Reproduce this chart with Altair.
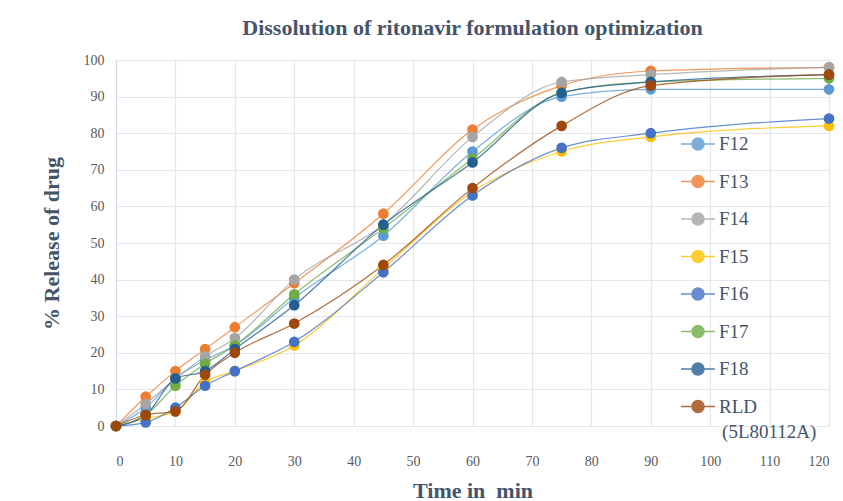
import altair as alt
import pandas as pd

times = [0, 5, 10, 15, 20, 30, 45, 60, 75, 90, 120]
series_names = ["F12", "F13", "F14", "F15", "F16", "F17", "F18", "RLD"]
F12 = [0, 5, 13, 18, 22, 35, 52, 75, 90, 92, 92]
F13 = [0, 8, 15, 21, 27, 39, 58, 81, 93, 97, 98]
F14 = [0, 6, 13, 19, 24, 40, 55, 79, 94, 96, 98]
F15 = [0, 2, 4, 12, 15, 22, 43, 64, 75, 79, 82]
F16 = [0, 1, 5, 11, 15, 23, 42, 63, 76, 80, 84]
F17 = [0, 3, 11, 17, 22, 36, 54, 73, 91, 94, 95]
F18 = [0, 3, 13, 15, 21, 33, 55, 72, 91, 94, 96]
RLD = [0, 3, 4, 14, 20, 28, 44, 65, 82, 93, 96]
colors = ["#5B9BD5", "#ED7D31", "#A5A5A5", "#FFC000", "#4472C4", "#70AD47", "#255E91", "#9E480E"]
note_text = ["(5L80112A)"]
note_x = [102]
note_y = [-1.7]

values = [F12, F13, F14, F15, F16, F17, F18, RLD]
rows = []
for i, (name, vals) in enumerate(zip(series_names, values)):
    for t, v in zip(times, vals):
        rows.append({"Series": name, "order": i, "Time": t, "Release": v})
df = pd.DataFrame(rows)
note_df = pd.DataFrame({"text": note_text, "Time": note_x, "Release": note_y})

serif = "Liberation Serif"
sym = "M-1,0H-0.36A0.36,0.36 0 1,1 0.36,0A0.36,0.36 0 1,1 -0.36,0M0.36,0H1"

color = alt.Color(
    "Series:N",
    scale=alt.Scale(domain=series_names, range=colors),
    legend=alt.Legend(
        title=None, orient="none", legendX=564, legendY=66,
        symbolType=sym, symbolSize=1156, symbolStrokeWidth=1.3,
        labelFont=serif, labelFontSize=19, labelColor="#44546A",
        labelOffset=3, rowPadding=9.5, padding=0,
    ),
)

x = alt.X("Time:Q", scale=alt.Scale(domain=[0, 120], nice=False),
          axis=alt.Axis(values=list(range(0, 121, 10)), title="Time in\u00a0 min"))
y = alt.Y("Release:Q", scale=alt.Scale(domain=[0, 100], nice=False),
          axis=alt.Axis(values=list(range(0, 101, 10)), title="% Release of drug"))

lines = alt.Chart(df).mark_line(interpolate="monotone", strokeWidth=1.2, opacity=0.8).encode(
    x=x, y=y, color=color, detail="Series:N", order="Time:Q"
)
points = alt.Chart(df).mark_circle(size=115, opacity=1).encode(
    x=x, y=y, color=color, order="order:Q"
)
note = alt.Chart(note_df).mark_text(
    align="left", baseline="middle", font=serif, fontSize=19, color="#44546A"
).encode(x=x, y=y, text="text:N")

chart = alt.layer(lines, points, note).properties(
    width=713, height=366,
    title=alt.TitleParams("Dissolution of ritonavir formulation optimization",
                          font=serif, fontSize=22, fontWeight="bold", color="#44546A",
                          anchor="middle", offset=13),
    autosize=alt.AutoSizeParams(type="none"),
    padding={"left": 116, "top": 60, "right": 14, "bottom": 75},
).configure_view(stroke=None).configure_axis(
    grid=True, gridColor="#E3E6EC", gridWidth=1.2, domain=False, ticks=False,
    labelFont="Liberation Sans Narrow", labelFontSize=14, labelColor="#595959",
    labelOverlap=False,
    titleFont=serif, titleFontSize=22, titleFontWeight="bold", titleColor="#44546A",
).configure_axisX(labelPadding=28, titlePadding=12).configure_axisY(
    labelPadding=12, titlePadding=20, domain=True, domainColor="#D0D7E5"
)

chart.save("out.html", embed_options={"renderer": "svg", "actions": False})
